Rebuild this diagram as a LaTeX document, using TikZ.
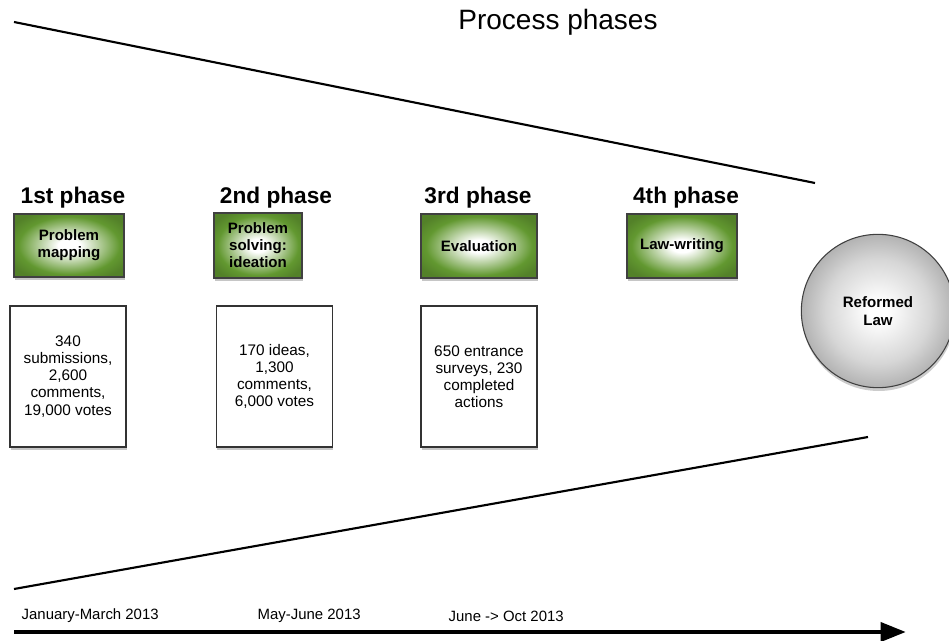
\documentclass[tikz,border=0pt]{standalone}
\usepackage{fontspec}
\setmainfont{Liberation Sans}
\usetikzlibrary{positioning,shadows,arrows.meta}
\definecolor{leafgreen}{RGB}{98,152,48}
\pgfdeclareradialshading{greenglow}{\pgfpoint{0bp}{0bp}}{color(0bp)=(white); color(5bp)=(white); color(14bp)=(leafgreen!50!white); color(23bp)=(leafgreen); color(30bp)=(leafgreen!85!black); color(50bp)=(leafgreen!85!black)}
\pgfdeclareradialshading{greyglow}{\pgfpoint{0bp}{0bp}}{color(0bp)=(white); color(3bp)=(white); color(17bp)=(black!16); color(25bp)=(black!30); color(50bp)=(black!30)}

\begin{document}
\begin{tikzpicture}[x=0.75pt,y=-0.75pt,
	phasename/.style={font=\bfseries\fontsize{17}{20}\selectfont},
	taskbox/.style={rectangle,draw=black!75,thick,shading=greenglow,align=center,
		font=\bfseries\fontsize{11.3}{12.8}\selectfont,
		drop shadow={shadow xshift=0.5pt,shadow yshift=-2.5pt,opacity=0.45}},
	statbox/.style={rectangle,draw=black!80,thick,fill=white,align=center,minimum width=87pt,minimum height=105.75pt,
		font=\fontsize{11.5}{12.8}\selectfont,
		drop shadow={shadow xshift=0.5pt,shadow yshift=-2.5pt,opacity=0.45}},
	lawnode/.style={circle,draw=black!75,thick,shading=greyglow,align=center,minimum size=115pt,
		font=\bfseries\fontsize{11.3}{13.5}\selectfont,
		drop shadow={shadow xshift=0.5pt,shadow yshift=-2.5pt,opacity=0.4}},
	datenode/.style={anchor=west,font=\fontsize{11.2}{12}\selectfont}]
	\useasboundingbox (0,0) rectangle (949,641);
	\node[font=\fontsize{21}{25}\selectfont] (title) at (558,22) {Process phases};
	% funnel
	\coordinate (tl) at (14,22);
	\coordinate (tr) at (815,183);
	\coordinate (bl) at (14,589);
	\coordinate (br) at (868,437);
	\draw[line width=1.6pt] (tl) -- (tr);
	\draw[line width=1.6pt] (bl) -- (br);
	% phases
	\node[phasename] (p1) at (73,198) {1st phase};
	\node[phasename] (p2) at (276,198) {2nd phase};
	\node[phasename] (p3) at (478,198) {3rd phase};
	\node[phasename] (p4) at (686,198) {4th phase};
	\node[taskbox,minimum width=82.5pt,minimum height=47.25pt] (t1) at (69,245.5) {Problem\\mapping};
	\node[taskbox,minimum width=66pt,minimum height=48.75pt] (t2) at (258,245.5) {Problem\\solving:\\ideation};
	\node[taskbox,minimum width=87pt,minimum height=48pt] (t3) at (479,246) {Evaluation};
	\node[taskbox,minimum width=82.5pt,minimum height=48pt] (t4) at (682,246) {Law-writing};
	\node[statbox] (s1) at (68,376.5) {340\\submissions,\\2,600\\comments,\\19,000 votes};
	\node[statbox] (s2) at (274.5,376.5) {170 ideas,\\1,300\\comments,\\6,000 votes};
	\node[statbox] (s3) at (479,376.5) {650 entrance\\surveys, 230\\completed\\actions};
	\node[lawnode] (law) at (878,311) {Reformed\\Law};
	% timeline
	\node[datenode] (d1) at (17,616) {January-March 2013};
	\node[datenode] (d2) at (253,616) {May-June 2013};
	\node[datenode] (d3) at (444,616) {June -> Oct 2013};
	\coordinate (t0) at (14,632);
	\coordinate (tend) at (906,632);
	\draw[line width=3.5pt,-{Triangle[length=19pt,width=14pt]}] (t0) -- (tend);
\end{tikzpicture}
\end{document}
